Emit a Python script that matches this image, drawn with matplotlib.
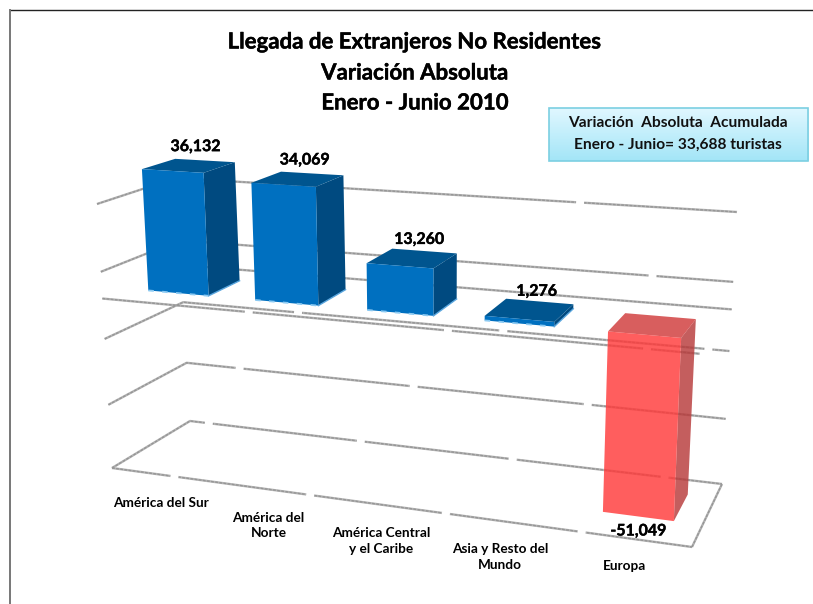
import matplotlib
matplotlib.use("Agg")
import matplotlib.pyplot as plt
import matplotlib.patheffects as pe
import numpy as np
from matplotlib.patches import Polygon, Rectangle

plt.rcParams['font.family'] = ['Lato', 'DejaVu Sans']
plt.rcParams['lines.scale_dashes'] = False

categories = ["América del Sur", "América del\nNorte", "América Central\ny el Caribe",
              "Asia y Resto del\nMundo", "Europa"]
values = [36132, 34069, 13260, 1276, -51049]
labels = ["36,132", "34,069", "13,260", "1,276", "-51,049"]
grid_levels = [-52000, -32600, -12400, 8200, 29000]
title_lines = ["Llegada de Extranjeros No Residentes", "Variación Absoluta", "Enero - Junio 2010"]
box_lines = ["Variación  Absoluta  Acumulada", "Enero - Junio= 33,688 turistas"]

# pixel position of the 3d box corners (x, y), as it is seen in the picture
# index: [top?][back?][right?]
corners = np.array([
    [[[112, 468], [692, 547]], [[190, 421], [722, 484]]],
    [[[97, 204], [704, 246]], [[176, 178], [737, 212]]],
], dtype=float)
vmin, vmax = grid_levels[0], grid_levels[-1]
persp = 1.128
# bars above zero stand a bit taller than the wall lines suggest
pos_scale = 1.05
heavy = [pe.withStroke(linewidth=0.3, foreground='black')]


def project(t, v, d):
    u = t / (t + persp * (1 - t))
    f = (v - vmin) / (vmax - vmin)
    bottom = (1 - d) * ((1 - u) * corners[0, 0, 0] + u * corners[0, 0, 1]) \
        + d * ((1 - u) * corners[0, 1, 0] + u * corners[0, 1, 1])
    top = (1 - d) * ((1 - u) * corners[1, 0, 0] + u * corners[1, 0, 1]) \
        + d * ((1 - u) * corners[1, 1, 0] + u * corners[1, 1, 1])
    return (1 - f) * bottom + f * top


fig = plt.figure(figsize=(8.13, 6.04), dpi=100)
ax = fig.add_axes([0, 0, 1, 1])
ax.set_axis_off()


def gridline(points, first_gap, on, off=8):
    # gray line with a fine grain on it, white dashes cut the long gaps
    pts = np.array(points)
    ax.plot(pts[:, 0], pts[:, 1], color="#b4b4b4", lw=1.7, zorder=1, solid_capstyle='butt')
    ax.plot(pts[:, 0], pts[:, 1], color="#969696", lw=1.0, zorder=1.1,
            linestyle=(0, (2.0, 1.0)), dash_capstyle='butt')
    offset = (on - first_gap) * 0.72
    ax.plot(pts[:, 0], pts[:, 1], color="white", lw=3, zorder=1.2,
            linestyle=(offset + on * 0.72, (off * 0.72, (on - off) * 0.72)), dash_capstyle='butt')


# walls: first gap along the line and gap spacing, pixels
wall_gaps = [(106, 153), (138, 175), (198, 206), (555, 600), (484, 500)]
for lev, (first, on) in zip(grid_levels, wall_gaps):
    gridline([project(0, lev, 0), project(0, lev, 1), project(1, lev, 1)], first, on)
# floor front and right edge
gridline([project(0, vmin, 0), project(1, vmin, 0)], 59, 137)
gridline([project(1, vmin, 0), project(1, vmin, 1)], 900, 2000)
# zero plane
gridline([project(0, 0, 0), project(1, 0, 0)], 143, 200)
gridline([project(0, 0, 1), project(1, 0, 1)], 900, 2000)

half = 0.057
d0, d1 = 0.3, 0.73
for i, val in enumerate(values):
    t = 0.1 + 0.2 * i
    lo, hi = min(val, 0), max(val, 0) * pos_scale
    pos = val > 0
    front = "#0070c0" if pos else "#ff3a3a"
    side = "#004a80" if pos else "#b83a3a"
    topc = "#00558f" if pos else "#d03a3a"
    a = 1 if pos else 0.82
    fbl, fbr = project(t - half, lo, d0), project(t + half, lo, d0)
    ftl, ftr = project(t - half, hi, d0), project(t + half, hi, d0)
    bbr = project(t + half, lo, d1)
    btl, btr = project(t - half, hi, d1), project(t + half, hi, d1)
    ax.add_patch(Polygon([fbr, bbr, btr, ftr], fc=side, ec='none', alpha=a, zorder=3))
    ax.add_patch(Polygon([ftl, ftr, btr, btl], fc=topc, ec='none', alpha=a, zorder=3))
    ax.add_patch(Polygon([fbl, fbr, ftr, ftl], fc=front, ec='none', alpha=a, zorder=3))
    if pos:
        ax.plot([fbl[0], fbr[0]], [fbl[1], fbr[1]], color="#8ccaf2", lw=1.3, zorder=4,
                linestyle=(0, (4, 6)))
        ax.plot([fbr[0], bbr[0]], [fbr[1], bbr[1]], color="#5aa6de", lw=1.0, zorder=4)
        px, py = project(t, hi, 0.5)
        ax.text(px + 8, py - 19, labels[i], ha='center', va='center', fontsize=11.5,
                fontweight='bold', color='black', zorder=5, path_effects=heavy)
    else:
        px, py = project(t, lo, 0.25)
        ax.text(px + 2, py + 12, labels[i], ha='center', va='center', fontsize=11.5,
                fontweight='bold', color='black', zorder=5, path_effects=heavy)
    lx, ly = project(t, vmin, 0)
    ax.text(lx - 3, ly + 22, categories[i], ha='center', va='top', fontsize=9.8,
            fontweight='bold', color='black', linespacing=1.35, zorder=5)

for txt, y in zip(title_lines, [42, 73, 103]):
    ax.text(415, y, txt, ha='center', va='center', fontsize=16, fontweight='bold', color='black',
            path_effects=heavy)

# note box with vertical gradient
grad = np.linspace(0, 1, 64)[:, None, None] * (np.array([0.64, 0.90, 0.97]) - np.array([0.88, 0.97, 1.0])) \
    + np.array([0.88, 0.97, 1.0])
ax.imshow(grad, extent=(549, 808, 161, 108), aspect='auto', zorder=2, interpolation='bilinear')
ax.add_patch(Rectangle((549, 108), 259, 53, fc='none', ec="#7ccfe2", lw=1.2, zorder=6))
for txt, y in zip(box_lines, [123, 145]):
    ax.text(678, y, txt, ha='center', va='center', fontsize=11.2, fontweight='bold',
            color="#111111", zorder=7)

# outer frame, only top and left show
ax.plot([10, 813], [10, 10], color="#222222", lw=1.0, zorder=8)
ax.plot([10, 10], [10, 604], color="#777777", lw=1.4, zorder=8)

ax.set_xlim(0, 813)
ax.set_ylim(604, 0)
fig.savefig("out.png", dpi=100)
